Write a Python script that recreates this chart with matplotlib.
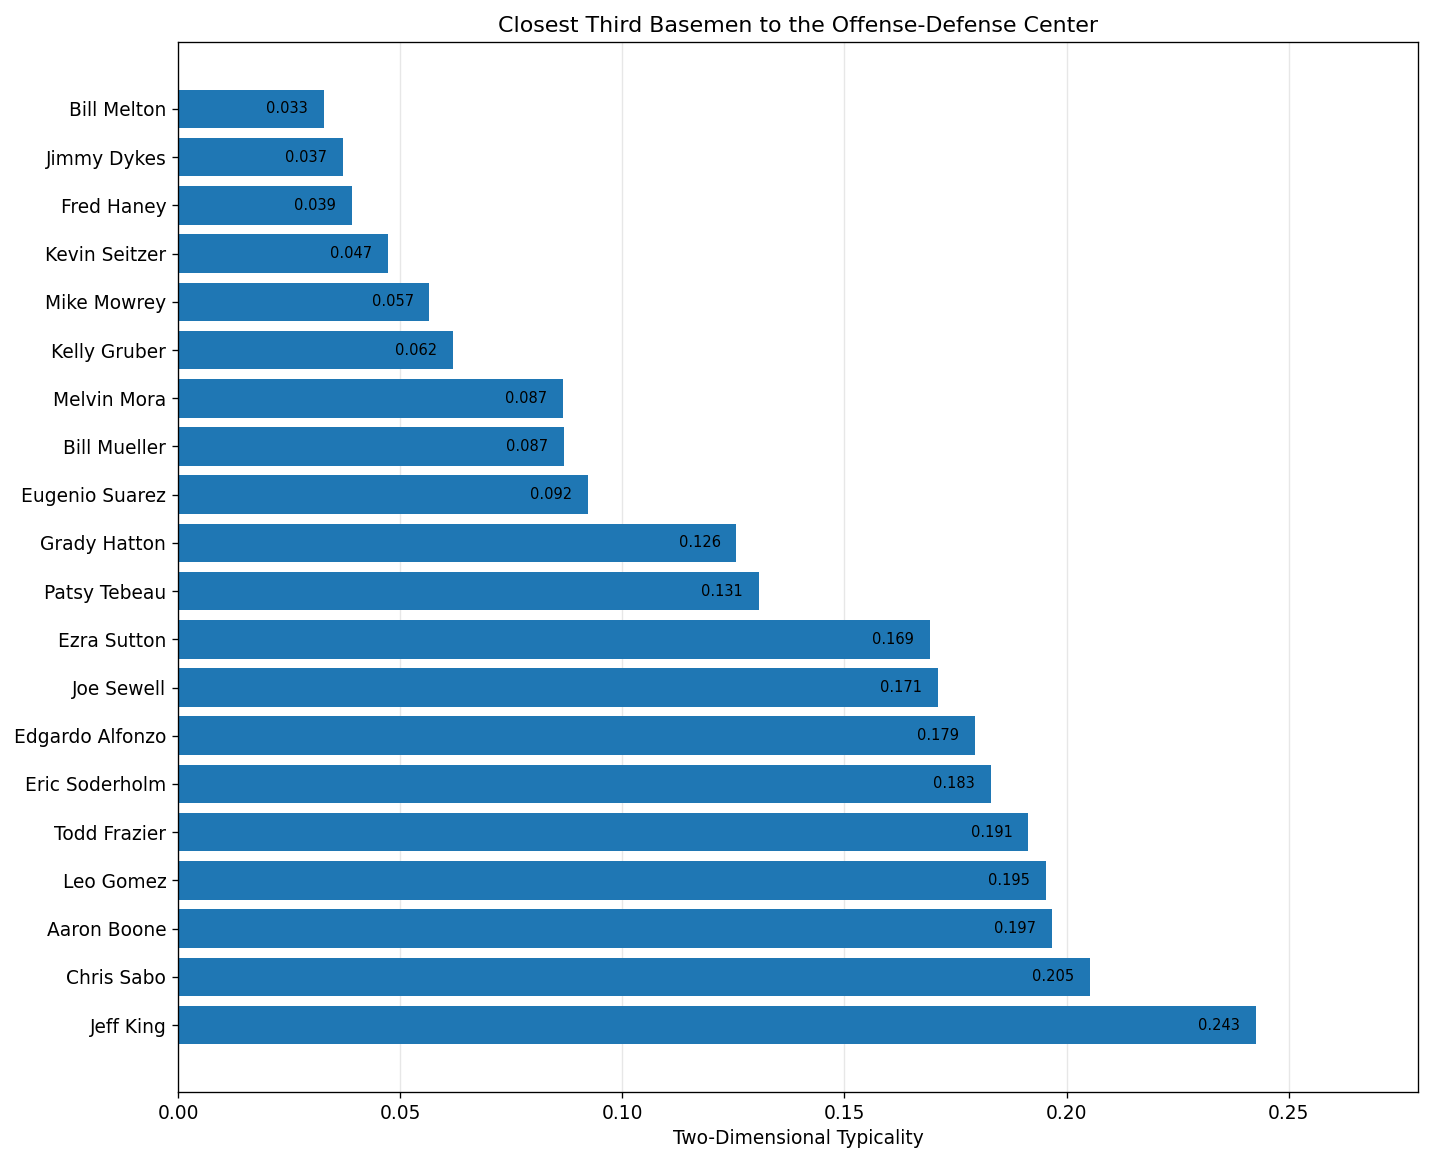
import matplotlib
matplotlib.use("Agg")
import matplotlib.pyplot as plt

# players, bottom to top
players = ["Jeff King", "Chris Sabo", "Aaron Boone", "Leo Gomez", "Todd Frazier",
           "Eric Soderholm", "Edgardo Alfonzo", "Joe Sewell", "Ezra Sutton",
           "Patsy Tebeau", "Grady Hatton", "Eugenio Suarez", "Bill Mueller",
           "Melvin Mora", "Kelly Gruber", "Mike Mowrey", "Kevin Seitzer",
           "Fred Haney", "Jimmy Dykes", "Bill Melton"]
typicality = [0.2427, 0.2053, 0.1968, 0.1954, 0.1914,
              0.1829, 0.1794, 0.1711, 0.1692,
              0.1308, 0.1257, 0.0922, 0.0868,
              0.0866, 0.0619, 0.0566, 0.0473,
              0.0391, 0.0372, 0.0329]

fig = plt.figure(figsize=(1431 / 120, 1162 / 120), dpi=120)
ax = fig.add_axes([0.1244, 0.0602, 0.8665, 0.9037])

bars = ax.barh(range(len(players)), typicality, height=0.8, color="#1f77b4")
ax.set_yticks(range(len(players)))
ax.set_yticklabels(players, fontsize=11.2)

for b, v in zip(bars, typicality):
    ax.text(v - 0.0083, b.get_y() + b.get_height() / 2, f"{v:.3f}",
            ha="center", va="center", fontsize=8.8)

ax.set_xlim(0, max(typicality) * 1.15)
ax.tick_params(axis="x", labelsize=11.2)
ax.set_xlabel("Two-Dimensional Typicality", fontsize=11.2)
ax.set_title("Closest Third Basemen to the Offense-Defense Center", fontsize=13.3)
ax.grid(axis="x", alpha=0.3)
ax.set_axisbelow(True)

fig.savefig("out.png", dpi=120)
